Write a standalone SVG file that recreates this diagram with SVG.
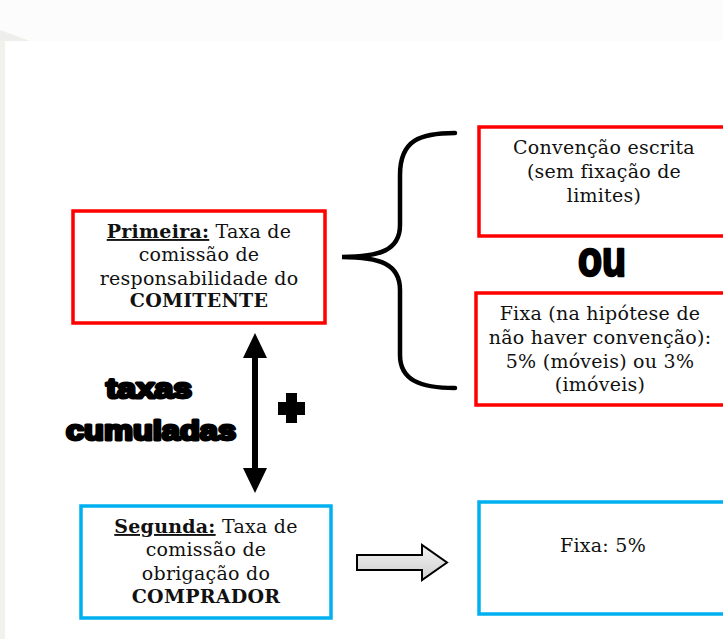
<svg xmlns="http://www.w3.org/2000/svg" width="723" height="639" viewBox="0 0 723 639">
<defs>
<style>
.red{fill:#ffffff;stroke:#ff0000;stroke-width:3.5}
.blue{fill:#ffffff;stroke:#00b0f0;stroke-width:3.5}
.t{font-family:"DejaVu Serif","Liberation Serif",serif;font-size:19px;letter-spacing:0.25px;fill:#111;text-anchor:middle}
.b{font-weight:bold}
.heavy{font-family:"Liberation Sans",Arial,sans-serif;font-weight:bold;fill:#000;stroke:#000;stroke-linejoin:round;text-anchor:middle}
</style>
<linearGradient id="g" x1="0" y1="0" x2="0" y2="1">
<stop offset="0" stop-color="#f2f2f2"/>
<stop offset="1" stop-color="#cfcfcf"/>
</linearGradient>
</defs>
<rect x="0" y="0" width="723" height="639" fill="#ffffff"/>
<rect x="0" y="0" width="723" height="41" fill="#fcfcfc"/>
<rect x="0" y="41" width="5" height="598" fill="#f2f2ec"/>
<polygon points="0,30 0,41 30,41" fill="#eeeeea"/>

<g id="primeira">
<rect class="red" x="73" y="211" width="252" height="112"/>
<text class="t" x="199" y="238"><tspan class="b" text-decoration="underline">Primeira:</tspan> Taxa de</text>
<text class="t" x="199" y="261">comissão de</text>
<text class="t" x="199" y="285">responsabilidade do</text>
<text class="t b" x="199" y="307">COMITENTE</text>
</g>

<g id="convencao">
<rect class="red" x="479" y="127" width="260" height="109"/>
<text class="t" x="604" y="154">Convenção escrita</text>
<text class="t" x="604" y="178">(sem fixação de</text>
<text class="t" x="604" y="202">limites)</text>
</g>

<g id="ou">
<text class="heavy" x="602" y="276" font-size="50" stroke-width="2.5" textLength="48" lengthAdjust="spacingAndGlyphs">ou</text>
</g>

<g id="fixa-hipotese">
<rect class="red" x="476" y="293" width="260" height="112"/>
<text class="t" x="600" y="320">Fixa (na hipótese de</text>
<text class="t" x="600" y="344">não haver convenção):</text>
<text class="t" x="600" y="368">5% (móveis) ou 3%</text>
<text class="t" x="600" y="391">(imóveis)</text>
</g>

<g id="segunda">
<rect class="blue" x="81" y="506" width="250" height="112"/>
<text class="t" x="206" y="533"><tspan class="b" text-decoration="underline">Segunda:</tspan> Taxa de</text>
<text class="t" x="206" y="556">comissão de</text>
<text class="t" x="206" y="580">obrigação do</text>
<text class="t b" x="206" y="603">COMPRADOR</text>
</g>

<g id="fixa5">
<rect class="blue" x="479" y="502" width="260" height="112"/>
<text class="t" x="603" y="552">Fixa: 5%</text>
</g>

<g id="taxas-cumuladas">
<text class="heavy" x="149" y="398" font-size="28" stroke-width="3" textLength="86" lengthAdjust="spacingAndGlyphs">taxas</text>
<text class="heavy" x="151" y="440" font-size="28" stroke-width="3" textLength="170" lengthAdjust="spacingAndGlyphs">cumuladas</text>
</g>

<g id="plus">
<rect x="286" y="393" width="11" height="30" fill="#000"/>
<rect x="278" y="402" width="27" height="13" fill="#000"/>
</g>

<g id="connectors">
<path d="M455,133 C420,133 400,140 400,175 L400,225 C400,250 380,257 342,257 C380,257 400,264 400,290 L400,355 C400,380 420,388 455,388" fill="none" stroke="#000" stroke-width="4.5" stroke-linecap="round"/>
<rect x="252" y="355" width="6" height="116" fill="#000"/>
<polygon points="255,333 267,358 243,358" fill="#000"/>
<polygon points="255,493 267,468 243,468" fill="#000"/>
<polygon points="357,555 422,555 422,545 447,562.5 422,580 422,570 357,570" fill="url(#g)" stroke="#000" stroke-width="2" stroke-linejoin="miter"/>
</g>
</svg>
